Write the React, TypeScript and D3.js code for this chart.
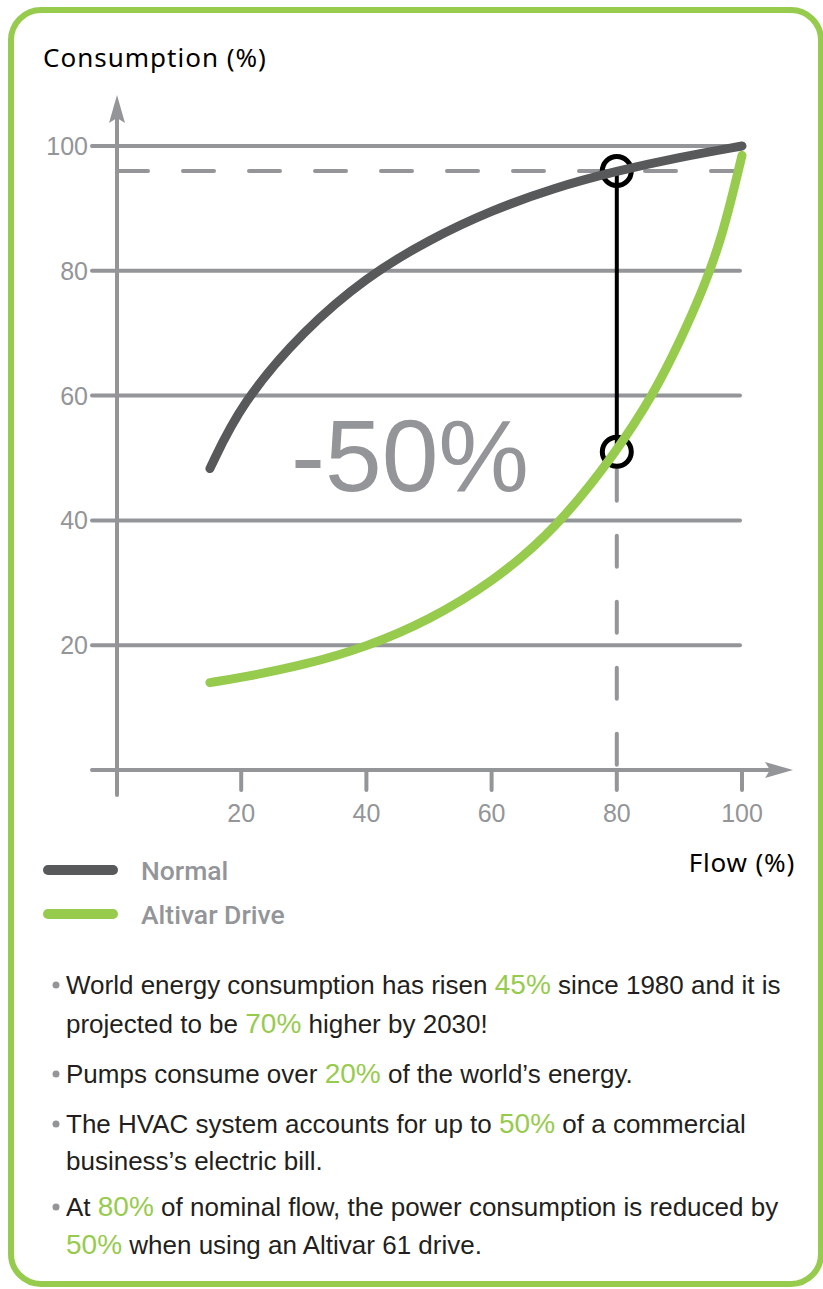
import React, { useRef, useEffect } from 'react';
import * as d3 from 'd3';

// Flow (%) vs consumption (%)
const normalFlow = [15, 20, 30, 40, 50, 60, 70, 80, 90, 100];
const normalValues = [48.3, 58.8, 70.5, 79, 85, 89.7, 93.3, 96, 98.2, 100];
const driveFlow = [15, 20, 30, 40, 50, 60, 70, 80, 86, 90, 94, 97, 100];
const driveValues = [14, 14.8, 16.8, 19.7, 24, 30, 38.3, 51, 60.5, 68.5, 77.5, 86, 98.5];
const xTicks = [20, 40, 60, 80, 100];
const yTicks = [20, 40, 60, 80, 100];
const refFlow = 80;
const refNormal = 96;
const refDrive = 51;
const savingLabel = '-50%';

const legendItems = ['Normal', 'Altivar Drive'];

// bullet lines: [text, isGreen][]
const bullets: { parts: [string, boolean][]; first: boolean }[] = [
  { first: true, parts: [['World energy consumption has risen ', false], ['45%', true], [' since 1980 and it is', false]] },
  { first: false, parts: [['projected to be ', false], ['70%', true], [' higher by 2030!', false]] },
  { first: true, parts: [['Pumps consume over ', false], ['20%', true], [' of the world\u2019s energy.', false]] },
  { first: true, parts: [['The HVAC system accounts for up to ', false], ['50%', true], [' of a commercial', false]] },
  { first: false, parts: [['business\u2019s electric bill.', false]] },
  { first: true, parts: [['At ', false], ['80%', true], [' of nominal flow, the power consumption is reduced by', false]] },
  { first: false, parts: [['50%', true], [' when using an Altivar 61 drive.', false]] },
];
const bulletY = [994, 1033, 1083, 1133, 1170, 1216, 1254];

const GREEN = '#97cb4e';
const GRAY = '#939598';
const DARK = '#58595b';
const INK = '#231f20';

export default function App() {
  const svgRef = useRef<SVGSVGElement>(null);
  const width = 823;
  const height = 1289;

  useEffect(() => {
    if (!svgRef.current) return;
    const svg = d3.select(svgRef.current);
    svg.selectAll('*').remove();

    // frame
    svg.append('rect')
      .attr('x', 11).attr('y', 10)
      .attr('width', 810).attr('height', 1274)
      .attr('rx', 30)
      .attr('fill', 'white')
      .attr('stroke', GREEN)
      .attr('stroke-width', 6);

    const x = d3.scaleLinear().domain([0, 100]).range([116, 742]);
    const y = d3.scaleLinear().domain([0, 100]).range([770, 146]);
    const axisX = 117;

    const g = svg.append('g');

    // gridlines
    g.selectAll('.grid')
      .data(yTicks)
      .enter().append('line')
      .attr('x1', axisX - 25).attr('x2', x(100) - 2)
      .attr('y1', d => y(d)).attr('y2', d => y(d))
      .attr('stroke', GRAY).attr('stroke-width', 4)
      .attr('stroke-linecap', 'round');

    // y labels
    g.selectAll('.ylab')
      .data(yTicks)
      .enter().append('text')
      .attr('x', axisX - 29)
      .attr('y', d => y(d))
      .attr('dy', '0.36em')
      .attr('text-anchor', 'end')
      .attr('font-family', 'Liberation Sans, Arial, sans-serif')
      .attr('font-size', 25)
      .attr('fill', GRAY)
      .text(d => d);

    // x axis line
    g.append('line')
      .attr('x1', axisX - 25).attr('x2', x(100) + 30)
      .attr('y1', y(0)).attr('y2', y(0))
      .attr('stroke', GRAY).attr('stroke-width', 4)
      .attr('stroke-linecap', 'round');
    // y axis line
    g.append('line')
      .attr('x1', axisX).attr('x2', axisX)
      .attr('y1', y(0) + 25).attr('y2', y(100) - 30)
      .attr('stroke', GRAY).attr('stroke-width', 4)
      .attr('stroke-linecap', 'round');

    // arrowheads
    const ax = axisX, ay = y(100) - 51;
    g.append('path')
      .attr('d', `M${ax},${ay} L${ax + 8},${ay + 28} L${ax},${ay + 23} L${ax - 8},${ay + 28} Z`)
      .attr('fill', GRAY);
    const bx = x(100) + 51, by = y(0);
    g.append('path')
      .attr('d', `M${bx},${by} L${bx - 28},${by - 8} L${bx - 23},${by} L${bx - 28},${by + 8} Z`)
      .attr('fill', GRAY);

    // x ticks + labels
    g.selectAll('.xtick')
      .data(xTicks)
      .enter().append('line')
      .attr('x1', d => x(d)).attr('x2', d => x(d))
      .attr('y1', y(0)).attr('y2', y(0) + 20)
      .attr('stroke', GRAY).attr('stroke-width', 4)
      .attr('stroke-linecap', 'round');
    g.selectAll('.xlab')
      .data(xTicks)
      .enter().append('text')
      .attr('x', d => x(d))
      .attr('y', y(0) + 43)
      .attr('dy', '0.36em')
      .attr('text-anchor', 'middle')
      .attr('font-family', 'Liberation Sans, Arial, sans-serif')
      .attr('font-size', 25)
      .attr('fill', GRAY)
      .text(d => d);

    // dashed reference lines
    g.append('line')
      .attr('x1', axisX).attr('x2', x(100) - 2)
      .attr('y1', y(refNormal)).attr('y2', y(refNormal))
      .attr('stroke', GRAY).attr('stroke-width', 4)
      .attr('stroke-dasharray', '31,35')
      .attr('stroke-linecap', 'round');
    g.append('line')
      .attr('x1', x(refFlow)).attr('x2', x(refFlow))
      .attr('y1', y(refDrive) + 18).attr('y2', y(0) + 25)
      .attr('stroke', GRAY).attr('stroke-width', 4)
      .attr('stroke-dasharray', '31,35')
      .attr('stroke-linecap', 'round');

    // saving marker
    g.append('line')
      .attr('x1', x(refFlow)).attr('x2', x(refFlow))
      .attr('y1', y(refNormal)).attr('y2', y(refDrive))
      .attr('stroke', 'black').attr('stroke-width', 4);
    g.selectAll('.marker')
      .data([refNormal, refDrive])
      .enter().append('circle')
      .attr('cx', x(refFlow))
      .attr('cy', d => y(d))
      .attr('r', 14.5)
      .attr('fill', 'none')
      .attr('stroke', 'black')
      .attr('stroke-width', 5);

    // big label
    g.append('text')
      .attr('x', 410).attr('y', 491)
      .attr('text-anchor', 'middle')
      .attr('font-family', 'Liberation Sans, Arial, sans-serif')
      .attr('font-size', 102)
      .attr('fill', GRAY)
      .text(savingLabel);

    const line = d3.line<[number, number]>()
      .x(d => x(d[0]))
      .y(d => y(d[1]))
      .curve(d3.curveBasis);

    g.append('path')
      .attr('d', line(driveFlow.map((f, i) => [f, driveValues[i]]))!)
      .attr('fill', 'none')
      .attr('stroke', GREEN).attr('stroke-width', 9)
      .attr('stroke-linecap', 'round');
    g.append('path')
      .attr('d', line(normalFlow.map((f, i) => [f, normalValues[i]]))!)
      .attr('fill', 'none')
      .attr('stroke', DARK).attr('stroke-width', 9)
      .attr('stroke-linecap', 'round');

    // axis titles
    svg.append('text')
      .attr('x', 43).attr('y', 67)
      .attr('font-family', 'Noto Sans, sans-serif')
      .attr('font-size', 26)
      .attr('letter-spacing', 1)
      .attr('fill', 'black')
      .text('Consumption (%)');
    svg.append('text')
      .attr('x', 795).attr('y', 872)
      .attr('text-anchor', 'end')
      .attr('font-family', 'Noto Sans, sans-serif')
      .attr('font-size', 26)
      .attr('letter-spacing', 0.8)
      .attr('fill', 'black')
      .text('Flow (%)');

    // legend
    const legend = svg.append('g');
    legendItems.forEach((name, i) => {
      const ly = 870 + i * 44;
      legend.append('line')
        .attr('x1', 48).attr('x2', 113)
        .attr('y1', ly).attr('y2', ly)
        .attr('stroke', i === 0 ? DARK : GREEN)
        .attr('stroke-width', 10)
        .attr('stroke-linecap', 'round');
      legend.append('text')
        .attr('x', 141).attr('y', ly)
        .attr('dy', '0.36em')
        .attr('font-family', 'Roboto, sans-serif')
        .attr('font-weight', 500)
        .attr('font-size', 26.5)
        .attr('fill', GRAY)
        .text(name);
    });

    // bullet list
    const notes = svg.append('g');
    bullets.forEach((b, i) => {
      const by2 = bulletY[i];
      if (b.first) {
        notes.append('circle')
          .attr('cx', 56).attr('cy', by2 - 9)
          .attr('r', 3.5)
          .attr('fill', GRAY);
      }
      const t = notes.append('text')
        .attr('x', 66).attr('y', by2)
        .attr('font-family', 'Liberation Sans, Arial, sans-serif')
        .attr('font-size', 26)
        .attr('fill', INK);
      b.parts.forEach(([s, green]) => {
        t.append('tspan')
          .attr('fill', green ? GREEN : INK)
          .attr('font-size', green ? 28 : 26)
          .text(s);
      });
    });
  }, []);

  return (
    <svg
      ref={svgRef}
      width={width}
      height={height}
      viewBox={`0 0 ${width} ${height}`}
      style={{ position: 'absolute', left: 0, top: 0, display: 'block', background: 'white' }}
    />
  );
}
